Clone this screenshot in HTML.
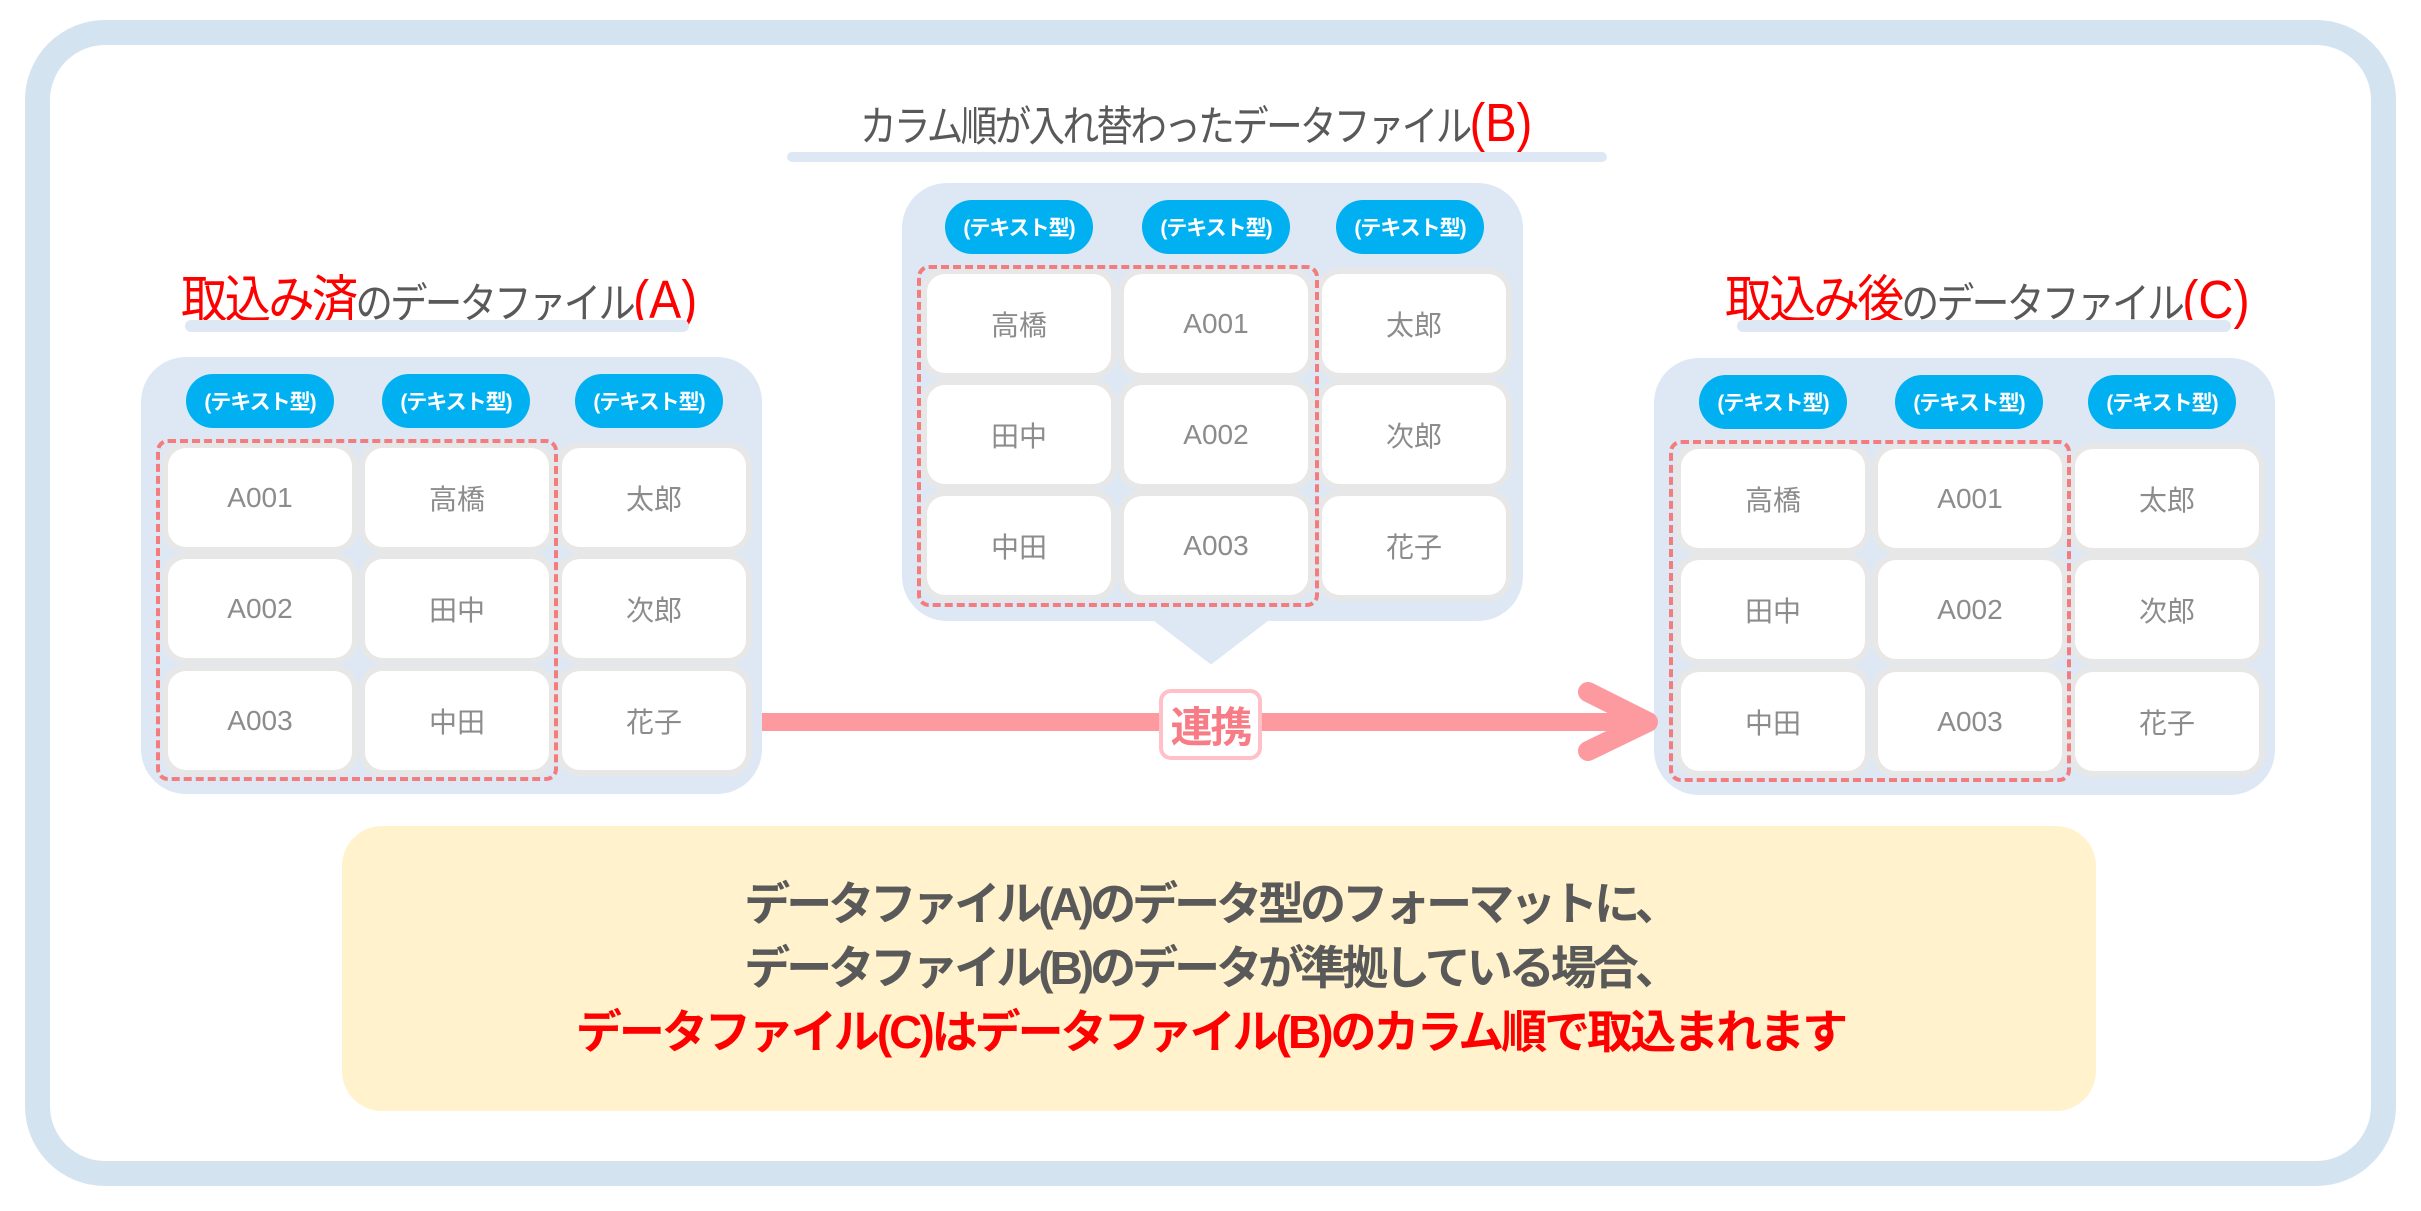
<!DOCTYPE html>
<html><head><meta charset="utf-8">
<style>
body{margin:0;width:2421px;height:1211px;background:#fff;position:relative;overflow:hidden;font-family:"Liberation Sans","Noto Sans CJK JP",sans-serif;}
.abs{position:absolute;}
.outer{left:25px;top:20px;width:2321px;height:1116px;border:25px solid #d3e3f0;border-radius:80px;}
.panel{position:absolute;width:621px;height:437px;background:#dde8f4;border-radius:45px;}
.pill{position:absolute;top:17px;width:148px;height:54px;background:#00b0f0;border-radius:27px;color:#fff;font-weight:bold;font-size:21px;display:flex;align-items:center;justify-content:center;letter-spacing:-1px;}
.cell{position:absolute;width:184px;height:99px;background:#fff;border-radius:18px;box-shadow:0 0 0 6px #e7e7e7;color:#8c8c8c;font-size:28px;display:flex;align-items:center;justify-content:center;}
.dash{position:absolute;left:15px;top:82px;width:394px;height:334px;border:4px dashed #f47c7c;border-radius:12px;}
.title{position:absolute;color:#595959;white-space:nowrap;font-size:42px;letter-spacing:-3px;transform-origin:left top;}
.title .r{color:#f00;}
.bar{position:absolute;height:12px;background:#dde8f4;border-radius:6px;}
.msg{position:absolute;left:0;width:2421px;text-align:center;font-weight:bold;font-size:46px;letter-spacing:-4px;color:#595959;}
</style></head><body>
<div class="abs outer"></div>

<div class="title" style="left:181px;top:258px;transform:scaleX(0.89)"><span class="r" style="font-size:52px">取込み済</span>のデータファイル<span class="r" style="font-size:54px;letter-spacing:0">(A)</span></div>
<div class="bar" style="left:185px;top:320px;width:504px;"></div>

<div class="title" style="left:860px;top:92px;transform:scaleX(0.87)">カラム順が入れ替わったデータファイル<span class="r" style="font-size:54px;letter-spacing:0">(B)</span></div>
<div class="bar" style="left:787px;top:152px;width:820px;height:10px;"></div>

<div class="title" style="left:1725px;top:258px;transform:scaleX(0.9)"><span class="r" style="font-size:52px">取込み後</span>のデータファイル<span class="r" style="font-size:54px;letter-spacing:0">(C)</span></div>
<div class="bar" style="left:1737px;top:320px;width:494px;"></div>

<svg class="abs" style="left:1140px;top:610px" width="142" height="56"><polygon points="3,0 139,0 71,52" fill="#dde8f4" stroke="#dde8f4" stroke-width="4" stroke-linejoin="round"/></svg>

<div class="panel" style="left:141px;top:357px;">
<div class="pill" style="left:45px">(テキスト型)</div><div class="pill" style="left:241px">(テキスト型)</div><div class="pill" style="left:434px">(テキスト型)</div>
<div class="cell" style="left:27px;top:91px">A001</div><div class="cell" style="left:224px;top:91px">高橋</div><div class="cell" style="left:421px;top:91px">太郎</div>
<div class="cell" style="left:27px;top:202px">A002</div><div class="cell" style="left:224px;top:202px">田中</div><div class="cell" style="left:421px;top:202px">次郎</div>
<div class="cell" style="left:27px;top:314px">A003</div><div class="cell" style="left:224px;top:314px">中田</div><div class="cell" style="left:421px;top:314px">花子</div>
<div class="dash"></div>
</div>

<div class="panel" style="left:902px;top:183px;height:438px;">
<div class="pill" style="left:43px">(テキスト型)</div><div class="pill" style="left:240px">(テキスト型)</div><div class="pill" style="left:434px">(テキスト型)</div>
<div class="cell" style="left:25px;top:91px">高橋</div><div class="cell" style="left:222px;top:91px">A001</div><div class="cell" style="left:420px;top:91px">太郎</div>
<div class="cell" style="left:25px;top:202px">田中</div><div class="cell" style="left:222px;top:202px">A002</div><div class="cell" style="left:420px;top:202px">次郎</div>
<div class="cell" style="left:25px;top:313px">中田</div><div class="cell" style="left:222px;top:313px">A003</div><div class="cell" style="left:420px;top:313px">花子</div>
<div class="dash"></div>
</div>

<div class="panel" style="left:1654px;top:358px;">
<div class="pill" style="left:45px">(テキスト型)</div><div class="pill" style="left:241px">(テキスト型)</div><div class="pill" style="left:434px">(テキスト型)</div>
<div class="cell" style="left:27px;top:91px">高橋</div><div class="cell" style="left:224px;top:91px">A001</div><div class="cell" style="left:421px;top:91px">太郎</div>
<div class="cell" style="left:27px;top:202px">田中</div><div class="cell" style="left:224px;top:202px">A002</div><div class="cell" style="left:421px;top:202px">次郎</div>
<div class="cell" style="left:27px;top:314px">中田</div><div class="cell" style="left:224px;top:314px">A003</div><div class="cell" style="left:421px;top:314px">花子</div>
<div class="dash"></div>
</div>

<svg class="abs" style="left:0;top:0" width="2421" height="1211">
<line x1="762" y1="722" x2="1645" y2="722" stroke="#fc9aa0" stroke-width="18"/>
<polyline points="1588,692 1648,722 1588,751" fill="none" stroke="#fc9aa0" stroke-width="20" stroke-linecap="round" stroke-linejoin="round"/>
</svg>
<div class="abs" style="left:1159px;top:689px;width:95px;height:63px;background:#fff;border:4px solid #ffc0c8;border-radius:12px;color:#f87c86;font-weight:bold;font-size:42px;display:flex;align-items:center;justify-content:center;letter-spacing:-2px;">連携</div>

<div class="abs" style="left:342px;top:826px;width:1754px;height:285px;background:#fff2cc;border-radius:40px;"></div>
<div class="msg" style="top:868px;">データファイル(A)のデータ型のフォーマットに、</div>
<div class="msg" style="top:932px;">データファイル(B)のデータが準拠している場合、</div>
<div class="msg" style="top:996px;color:#f00;letter-spacing:-3px;">データファイル(C)はデータファイル(B)のカラム順で取込まれます</div>
</body></html>
